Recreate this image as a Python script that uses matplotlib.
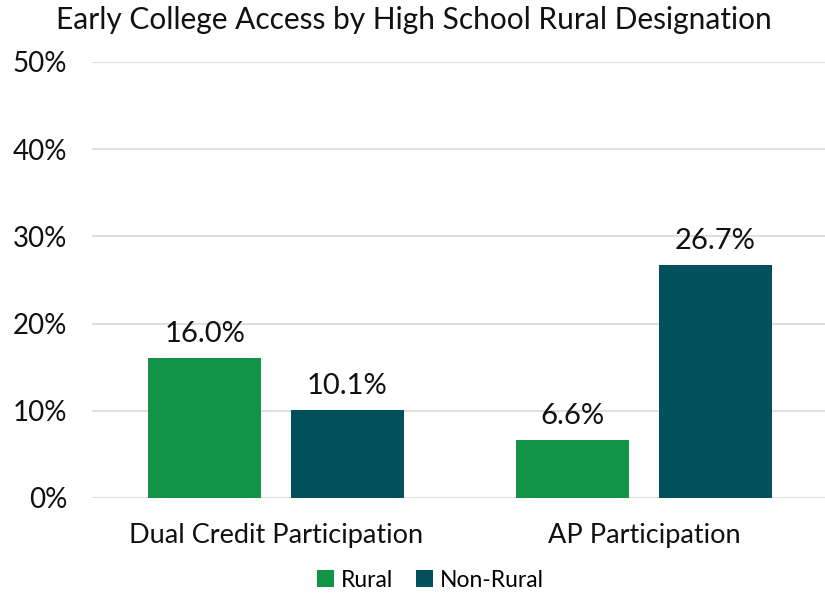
import matplotlib
matplotlib.use("Agg")
import matplotlib.pyplot as plt
import numpy as np

categories = ["Dual Credit Participation", "AP Participation"]
rural = [16.0, 6.6]
non_rural = [10.1, 26.7]
series_names = ["Rural", "Non-Rural"]
title = "Early College Access by High School Rural Designation"

plt.rcParams['font.family'] = ['Lato', 'DejaVu Sans']

fig = plt.figure(figsize=(8.25, 5.97), dpi=100)
ax = fig.add_axes([92/825, 99/597, 736/825, 436/597])

x = np.arange(len(categories))
w = 0.307
off = (w + 0.08) / 2
colors = ["#129447", "#02505C"]
b1 = ax.bar(x - off, rural, w, color=colors[0], label=series_names[0], zorder=3)
b2 = ax.bar(x + off, non_rural, w, color=colors[1], label=series_names[1], zorder=3)
for bars in (b1, b2):
    for r in bars:
        ax.annotate(f"{r.get_height():.1f}%", (r.get_x() + r.get_width()/2, r.get_height()),
                    xytext=(0, 8), textcoords="offset points", ha="center", va="bottom",
                    fontsize=21, color="#111111")

ax.set_xlim(-0.5, 1.5)
ax.set_ylim(0, 50)
ax.set_yticks(range(0, 51, 10))
ax.set_yticklabels([f"{v}%" for v in range(0, 51, 10)], fontsize=20, color="#111111")
ax.set_xticks(x)
ax.set_xticklabels(categories, fontsize=19.5, color="#111111")
ax.tick_params(length=0)
ax.tick_params(axis='y', pad=18)
ax.tick_params(axis='x', pad=18)
ax.yaxis.grid(True, color="#D9D9D9", linewidth=1.2, zorder=0)
for s in ax.spines.values():
    s.set_visible(False)

fig.text(0.502, 0.966, title, ha="center", va="center", fontsize=21.5, color="#111111")
fig.legend(handles=[b1, b2], labels=series_names, loc="center", bbox_to_anchor=(0.522, 0.028),
           ncol=2, frameon=False, fontsize=16.5, handlelength=0.75, handleheight=0.75,
           handletextpad=0.3, columnspacing=1.0)

fig.savefig("out.png", dpi=100)
